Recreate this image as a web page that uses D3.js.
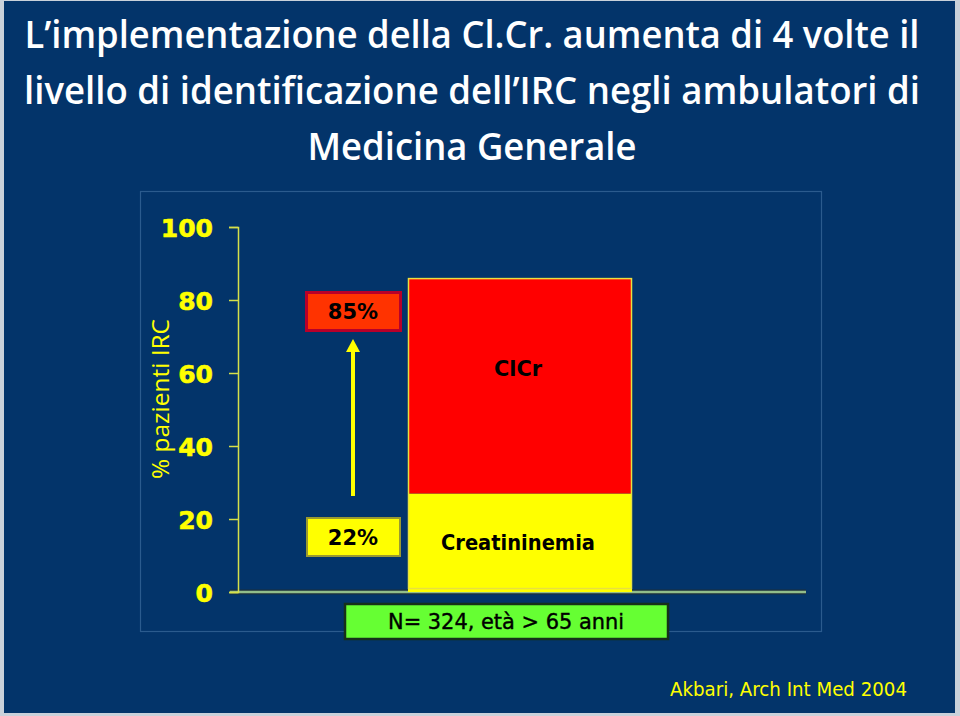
<!DOCTYPE html>
<html>
<head>
<meta charset="utf-8">
<script src="https://cdn.jsdelivr.net/npm/d3@7"></script>
<style>
  html, body { margin: 0; padding: 0; background: #c9d1da; }
  svg { display: block; }
</style>
</head>
<body>
<svg id="chart" width="960" height="716"></svg>
<script>
// ---------------- DATA ----------------
const titleLines = [
  "L\u2019implementazione della Cl.Cr. aumenta di 4 volte il",
  "livello di identificazione dell\u2019IRC negli ambulatori di",
  "Medicina Generale"
];
const categories = ["Akbari 2004"];
const segmentNames = ["Creatininemia", "ClCr"];
const creatininemiaValues = [27];   // yellow part (as drawn)
const clcrExtraValues = [59];       // red part on top (total ~86 as drawn)
const yTicks = [0, 20, 40, 60, 80, 100];
const yAxisLabel = "% pazienti IRC";
const labelLow = "22%";
const labelHigh = "85%";
const sampleNote = "N= 324, et\u00e0 > 65 anni";
const sourceNote = "Akbari, Arch Int Med 2004";

// ---------------- SETUP ----------------
const svg = d3.select("#chart");
const W = 960, H = 716;
const navy = "#03346a";

svg.append("rect").attr("x", 0).attr("y", 0).attr("width", W).attr("height", H).attr("fill", "#c9d1da");
svg.append("rect").attr("x", 4).attr("y", 1).attr("width", 951).attr("height", 712).attr("fill", navy);

// Title
const titleWidths = [895, 896, 329];
const titleBase = [48, 104, 160];
svg.append("g").selectAll("text").data(titleLines).join("text")
  .attr("x", W / 2 - 8)
  .attr("y", (d, i) => titleBase[i])
  .attr("text-anchor", "middle")
  .attr("font-family", "'Open Sans', 'Noto Sans', sans-serif")
  .attr("font-weight", 600)
  .attr("font-size", 38)
  .attr("fill", "#ffffff")
  .attr("textLength", (d, i) => titleWidths[i])
  .attr("lengthAdjust", "spacingAndGlyphs")
  .text(d => d);

// Plot panel frame
svg.append("rect").attr("x", 140.5).attr("y", 191.5).attr("width", 681).attr("height", 440)
  .attr("fill", "none").attr("stroke", "#2b5b8e").attr("stroke-width", 1.2);

// Scales
const y = d3.scaleLinear().domain([0, 100]).range([592, 227]);
const x = d3.scaleBand().domain(categories).range([408, 632]).padding(0);

// X axis line (green with dark outline)
svg.append("line").attr("x1", 230).attr("x2", 806).attr("y1", y(0)).attr("y2", y(0))
  .attr("stroke", "#1c2f3a").attr("stroke-width", 5);
svg.append("line").attr("x1", 230).attr("x2", 806).attr("y1", y(0)).attr("y2", y(0))
  .attr("stroke", "#92bd8a").attr("stroke-width", 2.5);

// Y axis
const yAxis = d3.axisLeft(y).tickValues(yTicks).tickSize(9).tickPadding(16).tickFormat(d3.format("d"));
const gy = svg.append("g").attr("transform", "translate(238,0)").call(yAxis);
gy.select(".domain").attr("stroke", "#d6e04a").attr("stroke-width", 1.5);
gy.selectAll(".tick line").attr("stroke", "#d6e04a").attr("stroke-width", 1.5);
gy.selectAll(".tick text")
  .attr("fill", "#ffff00")
  .attr("font-family", "'DejaVu Sans', Verdana, sans-serif")
  .attr("font-weight", "bold")
  .attr("font-size", 25)
  .attr("stroke", "#ffff00")
  .attr("stroke-width", 0.6)
  .attr("dy", "0.36em");

// Y axis label
svg.append("text")
  .attr("transform", "translate(169,399) rotate(-90)")
  .attr("text-anchor", "middle")
  .attr("font-family", "'Open Sans', 'Noto Sans', sans-serif")
  .attr("font-size", 23)
  .attr("fill", "#ffff00")
  .attr("textLength", 160)
  .attr("lengthAdjust", "spacingAndGlyphs")
  .text(yAxisLabel);

// Stacked bar
const rows = categories.map((c, i) => ({ cat: c, Creatininemia: creatininemiaValues[i], ClCr: clcrExtraValues[i] }));
const stacked = d3.stack().keys(segmentNames)(rows);
const colors = { Creatininemia: "#ffff00", ClCr: "#ff0000" };
const gBar = svg.append("g");
stacked.forEach(layer => {
  gBar.selectAll(null).data(layer).join("rect")
    .attr("x", d => x(d.data.cat))
    .attr("width", x.bandwidth())
    .attr("y", d => y(d[1]))
    .attr("height", d => y(d[0]) - y(d[1]))
    .attr("fill", colors[layer.key]);
});
// outline around whole bar
const total = creatininemiaValues[0] + clcrExtraValues[0];
gBar.append("rect")
  .attr("x", x(categories[0]) + 0.5).attr("y", y(total) + 0.5)
  .attr("width", x.bandwidth() - 1).attr("height", y(0) - y(total) - 4)
  .attr("fill", "none").attr("stroke", "#e8e040").attr("stroke-width", 1.5);

// Segment labels
const segFont = "'DejaVu Sans', 'Comic Sans MS', sans-serif";
const cx = x(categories[0]) + x.bandwidth() / 2;
svg.append("text").attr("x", cx - 2).attr("y", 376)
  .attr("text-anchor", "middle").attr("font-family", segFont).attr("font-weight", "bold")
  .attr("font-size", 22).attr("fill", "#000")
  .attr("textLength", 48).attr("lengthAdjust", "spacingAndGlyphs")
  .text("ClCr");
svg.append("text").attr("x", cx - 2).attr("y", 550)
  .attr("text-anchor", "middle").attr("font-family", segFont).attr("font-weight", "bold")
  .attr("font-size", 22).attr("fill", "#000")
  .attr("textLength", 154).attr("lengthAdjust", "spacingAndGlyphs")
  .text("Creatininemia");

// Annotation: 85% box
svg.append("rect").attr("x", 306.5).attr("y", 292.5).attr("width", 94).attr("height", 38)
  .attr("fill", "#ff3300").attr("stroke", "#b8002a").attr("stroke-width", 3);
svg.append("text").attr("x", 353).attr("y", 319)
  .attr("text-anchor", "middle").attr("font-family", "'DejaVu Sans', Verdana, sans-serif")
  .attr("font-weight", "bold").attr("font-size", 21).attr("fill", "#000").text(labelHigh);

// Arrow
svg.append("line").attr("x1", 353).attr("x2", 353).attr("y1", 496).attr("y2", 350)
  .attr("stroke", "#ffff00").attr("stroke-width", 4);
svg.append("path").attr("d", d3.line()([[346, 352], [353, 339], [360, 352]]) + "Z")
  .attr("fill", "#ffff00");

// Annotation: 22% box
svg.append("rect").attr("x", 307).attr("y", 518).attr("width", 93).attr("height", 38)
  .attr("fill", "#ffff00").attr("stroke", "#9a9a30").attr("stroke-width", 2);
svg.append("text").attr("x", 353).attr("y", 545)
  .attr("text-anchor", "middle").attr("font-family", "'DejaVu Sans', Verdana, sans-serif")
  .attr("font-weight", "bold").attr("font-size", 21).attr("fill", "#000").text(labelLow);

// N box
svg.append("rect").attr("x", 345).attr("y", 604).attr("width", 323).attr("height", 35)
  .attr("fill", "#66ff33").attr("stroke", "#16301a").attr("stroke-width", 2.5);
svg.append("text").attr("x", 506).attr("y", 629)
  .attr("text-anchor", "middle").attr("font-family", segFont)
  .attr("font-size", 21).attr("fill", "#000")
  .attr("stroke", "#000").attr("stroke-width", 0.4)
  .attr("textLength", 236).attr("lengthAdjust", "spacingAndGlyphs")
  .text(sampleNote);

// Source
svg.append("text").attr("x", 670).attr("y", 696)
  .attr("font-family", segFont).attr("font-size", 20).attr("fill", "#ffff00")
  .attr("textLength", 237).attr("lengthAdjust", "spacingAndGlyphs")
  .text(sourceNote);
</script>
</body>
</html>
